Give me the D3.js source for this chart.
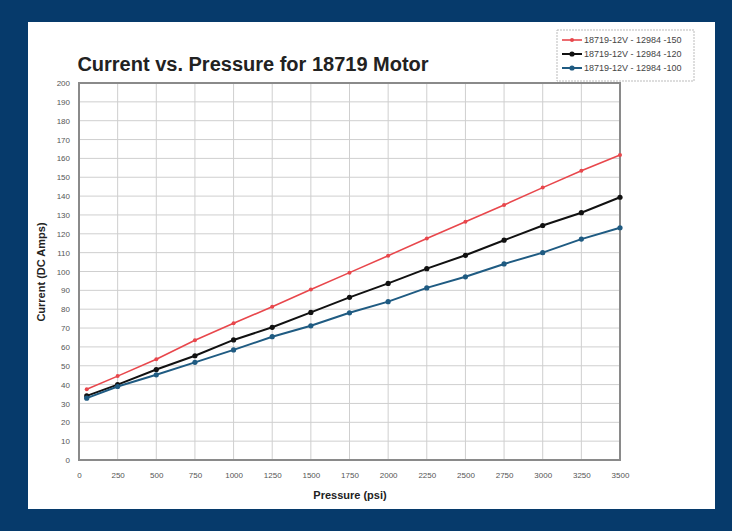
<!DOCTYPE html>
<html><head><meta charset="utf-8">
<script src="https://cdn.jsdelivr.net/npm/d3@7"></script>
<style>html,body{margin:0;padding:0;background:#063a6b;}svg{display:block;}</style>
</head><body>
<svg id="c" width="732" height="531"></svg>
<script>
const pressure = [50,250,500,750,1000,1250,1500,1750,2000,2250,2500,2750,3000,3250,3500];
const s150 = [37.5,44.5,53.5,63.5,72.5,81.3,90.5,99.4,108.4,117.5,126.4,135.3,144.5,153.4,161.8];
const s120 = [34,40,48,55.3,63.7,70.4,78.3,86.3,93.7,101.5,108.6,116.6,124.4,131.2,139.4];
const s100 = [32.8,39,45.2,51.8,58.4,65.4,71.2,78.1,84,91.3,97.2,104,110,117.2,123.2];
const seriesNames = ["18719-12V - 12984 -150","18719-12V - 12984 -120","18719-12V - 12984 -100"];
const seriesColors = ["#e8474c","#111111","#1f5b82"];
const xTicks = [0,250,500,750,1000,1250,1500,1750,2000,2250,2500,2750,3000,3250,3500];
const yTicks = d3.range(0,201,10);
const title = "Current vs. Pressure for 18719 Motor";
const xTitle = "Pressure (psi)";
const yTitle = "Current (DC Amps)";

const svg = d3.select("#c");
svg.append("rect").attr("x",0).attr("y",0).attr("width",732).attr("height",531).attr("fill","#063a6b");
svg.append("rect").attr("x",28).attr("y",22).attr("width",687).attr("height",487).attr("fill","#ffffff");

const L=79, R=620, T=83, B=460;
const x = d3.scaleLinear().domain([0,3500]).range([L,R]);
const y = d3.scaleLinear().domain([0,200]).range([B,T]);

// grid
svg.append("g").selectAll("line").data(yTicks).join("line")
  .attr("x1",L).attr("x2",R).attr("y1",d=>y(d)).attr("y2",d=>y(d))
  .attr("stroke","#cfcfcf").attr("stroke-width",1);
svg.append("g").selectAll("line").data(xTicks).join("line")
  .attr("y1",T).attr("y2",B).attr("x1",d=>x(d)).attr("x2",d=>x(d))
  .attr("stroke","#cfcfcf").attr("stroke-width",1);

// axes labels
const yAxis = d3.axisLeft(y).tickValues(yTicks).tickSize(0).tickPadding(9).tickFormat(d3.format("d"));
const gy = svg.append("g").attr("transform",`translate(${L},0)`).call(yAxis);
gy.select(".domain").remove();
gy.selectAll("text").attr("font-family","Liberation Sans, Arial, sans-serif").attr("font-size","8px").attr("fill","#555");

const xAxis = d3.axisBottom(x).tickValues(xTicks).tickSize(0).tickPadding(12).tickFormat(d3.format("d"));
const gx = svg.append("g").attr("transform",`translate(0,${B})`).call(xAxis);
gx.select(".domain").remove();
gx.selectAll("text").attr("font-family","Liberation Sans, Arial, sans-serif").attr("font-size","8px").attr("fill","#555");

// frame
svg.append("rect").attr("x",L).attr("y",T).attr("width",R-L).attr("height",B-T)
  .attr("fill","none").attr("stroke","#8a8a8a").attr("stroke-width",2);

// series
const all = [s150,s120,s100];
const line = d3.line().x((d,i)=>x(pressure[i])).y(d=>y(d));
all.forEach((vals,k)=>{
  const g = svg.append("g");
  g.append("path").datum(vals).attr("d",line).attr("fill","none")
    .attr("stroke",seriesColors[k]).attr("stroke-width",k===0?1.6:2);
  g.selectAll("circle").data(vals).join("circle")
    .attr("cx",(d,i)=>x(pressure[i])).attr("cy",d=>y(d)).attr("r",k===0?2:2.6)
    .attr("fill",seriesColors[k]);
});

// title
svg.append("text").attr("x",253).attr("y",71).attr("text-anchor","middle")
  .attr("font-family","Liberation Sans, Arial, sans-serif").attr("font-weight","bold")
  .attr("font-size","20px").attr("fill","#222").text(title);

svg.append("text").attr("x",350).attr("y",499).attr("text-anchor","middle")
  .attr("font-family","Liberation Sans, Arial, sans-serif").attr("font-weight","bold")
  .attr("font-size","11px").attr("fill","#222").text(xTitle);

svg.append("text").attr("transform","translate(45,272) rotate(-90)").attr("text-anchor","middle")
  .attr("font-family","Liberation Sans, Arial, sans-serif").attr("font-weight","bold")
  .attr("font-size","11px").attr("fill","#222").text(yTitle);

// legend
const lg = svg.append("g");
lg.append("rect").attr("x",557).attr("y",30).attr("width",137).attr("height",51)
  .attr("fill","#fff").attr("stroke","#bbb").attr("stroke-width",1).attr("stroke-dasharray","2,1");
seriesNames.forEach((n,k)=>{
  const yy = 40 + k*14;
  lg.append("line").attr("x1",562).attr("x2",582).attr("y1",yy).attr("y2",yy)
    .attr("stroke",seriesColors[k]).attr("stroke-width",k===0?1.6:2);
  lg.append("circle").attr("cx",572).attr("cy",yy).attr("r",k===0?2:2.6).attr("fill",seriesColors[k]);
  lg.append("text").attr("x",584).attr("y",yy+3)
    .attr("font-family","Liberation Sans, Arial, sans-serif").attr("font-size","9px")
    .attr("fill","#444").text(n);
});
</script>
</body></html>
